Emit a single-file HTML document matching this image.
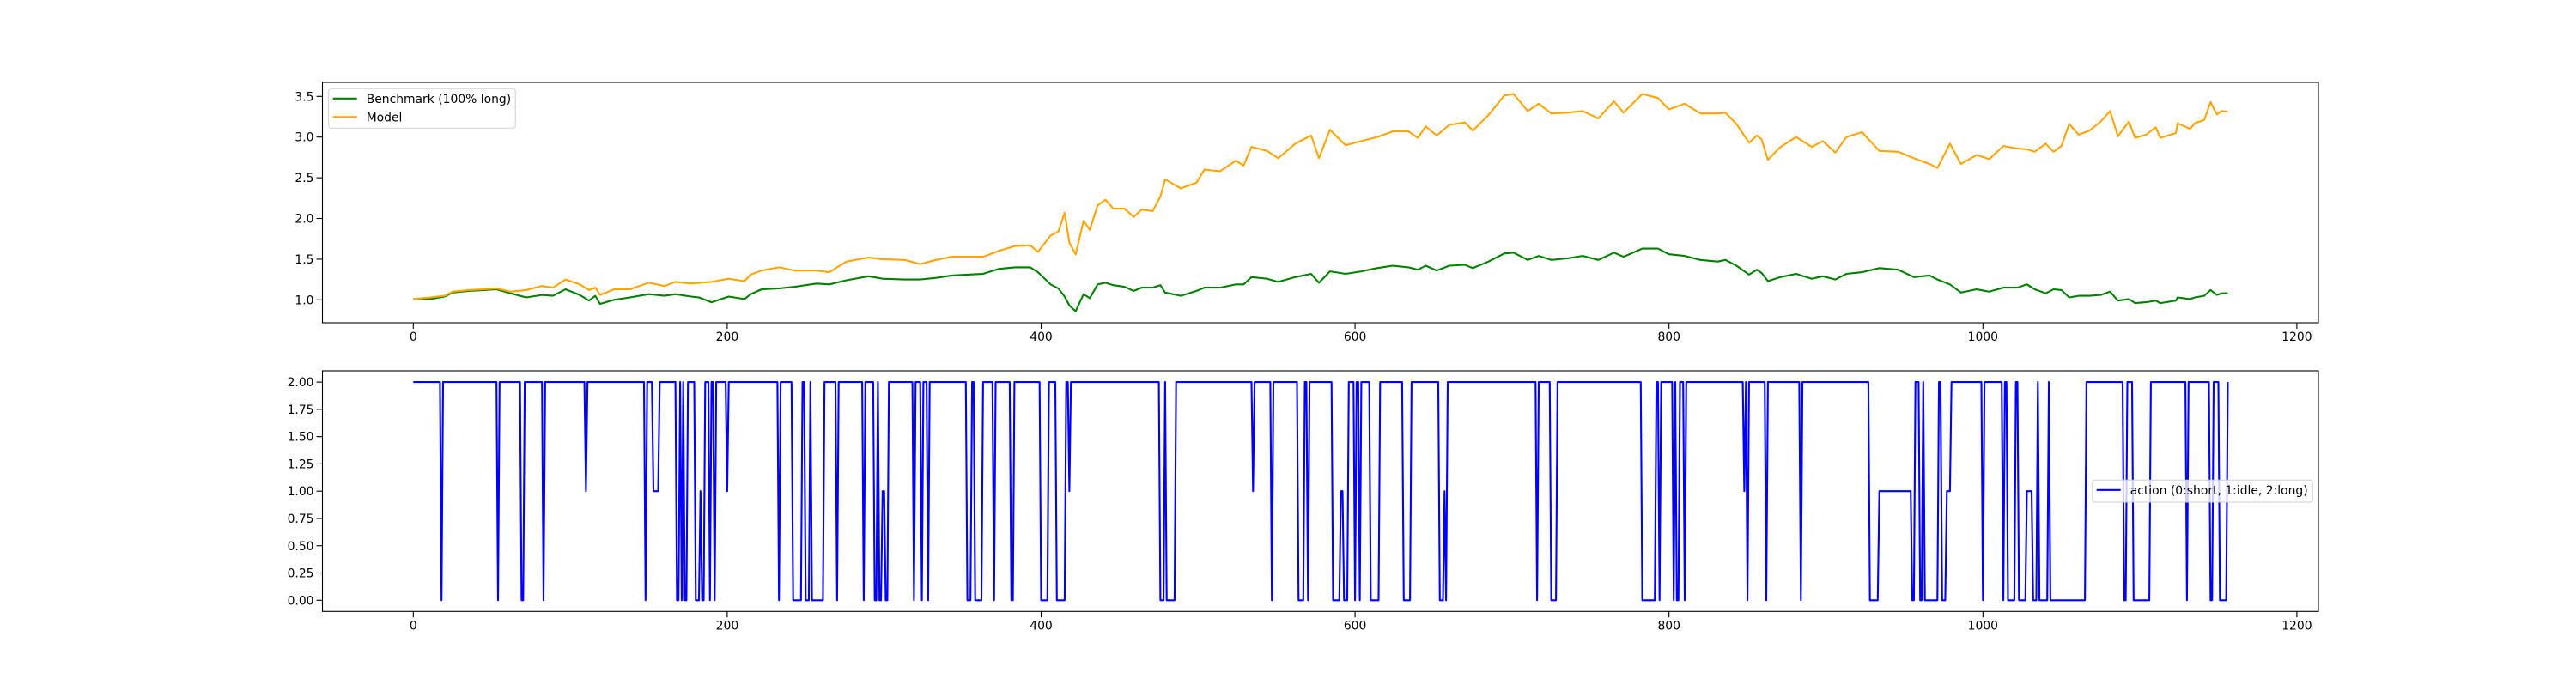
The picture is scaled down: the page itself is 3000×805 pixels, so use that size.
<!DOCTYPE html>
<html><head><meta charset="utf-8"><style>
html,body{margin:0;padding:0;background:#fff;}
svg text{font-family:"DejaVu Sans","Liberation Sans",sans-serif;font-size:13.9px;fill:#000;}
</style></head><body>
<svg id="chart" width="3000" height="800" viewBox="0 0 3000 800" xmlns="http://www.w3.org/2000/svg">
<rect width="3000" height="800" fill="#fff"/>
<g id="topPanel"></g>
<g id="botPanel"></g>
</svg>
<script>
// ---- data ----
const perfSteps = [0,11,20,25,35,45,53,62,72,82,89,97,106,112,116,119,128,138,150,160,167,177,182,190,201,211,215,222,233,243,257,265,276,290,299,313,323,333,343,353,363,373,383,393,398,406,411,415,418,422,427,431,436,441,446,453,459,464,471,476,479,489,499,504,514,524,529,534,544,551,562,572,577,584,594,604,614,624,634,640,645,652,660,670,675,685,695,701,710,717,725,735,745,755,765,771,783,793,800,810,820,831,836,843,851,856,859,863,871,881,891,898,906,913,923,934,946,956,966,971,979,986,996,1004,1013,1022,1028,1033,1040,1045,1050,1055,1061,1068,1075,1081,1086,1093,1097,1104,1110,1113,1123,1124,1132,1135,1141,1145,1149,1152,1156];
const modelVals = [1.01,1.03,1.05,1.10,1.12,1.13,1.14,1.10,1.12,1.17,1.15,1.25,1.19,1.12,1.15,1.06,1.13,1.13,1.21,1.17,1.22,1.20,1.21,1.22,1.26,1.23,1.31,1.36,1.40,1.36,1.36,1.34,1.47,1.52,1.50,1.49,1.44,1.49,1.53,1.53,1.53,1.60,1.66,1.67,1.59,1.79,1.84,2.07,1.70,1.56,1.97,1.86,2.16,2.23,2.12,2.12,2.02,2.11,2.09,2.27,2.48,2.37,2.44,2.60,2.58,2.71,2.65,2.88,2.83,2.74,2.92,3.02,2.74,3.09,2.90,2.95,3.00,3.07,3.07,2.99,3.13,3.02,3.15,3.18,3.08,3.27,3.51,3.53,3.32,3.41,3.29,3.30,3.32,3.23,3.44,3.30,3.53,3.48,3.34,3.41,3.29,3.29,3.30,3.16,2.93,3.02,2.97,2.72,2.88,3.00,2.88,2.95,2.81,3.00,3.06,2.83,2.82,2.74,2.67,2.62,2.92,2.67,2.78,2.73,2.89,2.86,2.85,2.82,2.92,2.82,2.89,3.16,3.03,3.08,3.19,3.32,3.01,3.19,2.99,3.03,3.12,2.99,3.05,3.17,3.10,3.17,3.21,3.43,3.28,3.32,3.31];
const benchVals = [1.01,1.01,1.04,1.09,1.11,1.12,1.13,1.08,1.03,1.06,1.05,1.13,1.06,0.99,1.05,0.95,1.00,1.03,1.07,1.05,1.07,1.04,1.03,0.97,1.04,1.01,1.07,1.13,1.14,1.16,1.20,1.19,1.24,1.29,1.26,1.25,1.25,1.27,1.30,1.31,1.32,1.38,1.40,1.40,1.34,1.19,1.14,1.04,0.93,0.86,1.07,1.02,1.19,1.21,1.18,1.16,1.11,1.15,1.15,1.18,1.09,1.05,1.11,1.15,1.15,1.19,1.19,1.28,1.26,1.22,1.28,1.32,1.21,1.35,1.32,1.35,1.39,1.42,1.40,1.37,1.42,1.36,1.42,1.43,1.39,1.47,1.57,1.58,1.49,1.54,1.49,1.51,1.54,1.49,1.58,1.53,1.63,1.63,1.56,1.54,1.49,1.47,1.49,1.42,1.31,1.37,1.33,1.23,1.28,1.32,1.26,1.29,1.25,1.32,1.34,1.39,1.37,1.28,1.30,1.25,1.19,1.09,1.13,1.10,1.15,1.15,1.19,1.13,1.08,1.13,1.12,1.03,1.05,1.05,1.06,1.10,0.99,1.01,0.96,0.97,0.99,0.96,0.99,1.03,1.01,1.03,1.05,1.12,1.06,1.08,1.08];
const actionRunStart = [0,18,19,54,55,69,71,83,84,110,111,148,149,153,157,168,170,171,172,173,175,180,183,184,186,189,190,192,193,200,201,233,234,242,248,250,253,254,262,270,271,287,288,294,296,297,299,301,303,319,320,324,325,328,329,353,356,358,363,370,371,381,383,400,405,410,416,418,419,476,479,480,486,535,536,547,548,564,568,570,571,586,591,593,596,600,601,603,604,610,616,631,636,654,657,658,659,716,717,725,729,783,792,794,795,803,804,805,807,810,811,848,849,850,851,862,863,884,885,928,934,955,957,960,962,963,972,974,977,980,1000,1001,1013,1014,1016,1021,1023,1028,1032,1035,1036,1042,1043,1066,1090,1092,1096,1107,1130,1131,1145,1147,1151,1156];
const actionRunValue = [2,0,2,0,2,0,2,0,2,1, 2,0,2,1,2,0,2,0,2,0, 2,0,1,0,2,0,2,0,2,1, 2,0,2,0,2,0,2,0,2,0, 2,0,2,0,2,0,1,0,2,0, 2,0,2,0,2,0,2,0,2,0, 2,0,2,0,2,0,2,1,2,0, 2,0,2,1,2,0,2,0,2,0, 2,0,1,0,2,0,2,0,2,0, 2,0,2,0,1,0,2,0,2,0, 2,0,2,0,2,0,2,0,2,0, 2,1,2,0,2,0,2,0,2,0, 1,0,2,0,2,0,2,0,1,2, 0,2,0,2,0,2,0,1,0,2, 0,2,0,2,0,2,0,2,0,2, 0,2,0,2];
const actionLastStep = 1156;
const xTicks = [0,200,400,600,800,1000,1200];
const topYTicks = [1.0,1.5,2.0,2.5,3.0,3.5];
const botYTicks = [0,0.25,0.5,0.75,1.0,1.25,1.5,1.75,2.0];

// ---- scales ----
const L=375.5, R=2700;
const X0=481.3, XS=1.828;
const xS = v => X0 + v*XS;
const topY = v => 349.3 - (v-1)*94.8;
const botY = v => 699.3 - v*127.1;
const NS="http://www.w3.org/2000/svg";
function mk(tag, parent, attrs){const e=document.createElementNS(NS,tag);for(const k in attrs)e.setAttribute(k,attrs[k]);parent.appendChild(e);return e;}

function axes(g, T, B, yTicks, yScale, fmt, prefix){
  const frame = mk('rect', g, {x:L,y:T,width:R-L,height:B-T,fill:'none',stroke:'#000','stroke-width':1.1});
  
  
  xTicks.forEach(t=>{
    const x=xS(t);
    const tk = mk('line', g, {x1:x,x2:x,y1:B,y2:B+7,stroke:'#000','stroke-width':1.1});
    
    
    const tx = mk('text', g, {x:x,y:B+21,'text-anchor':'middle'});
    tx.textContent = String(t);
    
    
  });
  yTicks.forEach(t=>{
    const y=yScale(t);
    const tk = mk('line', g, {x1:L-7,x2:L,y1:y,y2:y,stroke:'#000','stroke-width':1.1});
    
    
    const tx = mk('text', g, {x:L-10,y:y+5,'text-anchor':'end'});
    tx.textContent = fmt(t);
    
    
  });
}

const topG = document.getElementById('topPanel');
const botG = document.getElementById('botPanel');
axes(topG, 96, 376, topYTicks, topY, v=>v.toFixed(1), 'top');
axes(botG, 432, 712.3, botYTicks, botY, v=>v.toFixed(2), 'bottom');

function poly(g, xs, ys, color, name){
  const n = Math.min(xs.length, ys.length);
  const pts = [];
  for(let i=0;i<n;i++) pts.push(xS(xs[i]).toFixed(1)+','+ys[i].toFixed(1));
  const p = mk('polyline', g, {points:pts.join(' '),fill:'none',stroke:color,'stroke-width':2.1,'stroke-linejoin':'round'});
  
  
}
poly(topG, perfSteps, benchVals.map(topY), '#008000', 'benchmark-line');
poly(topG, perfSteps, modelVals.map(topY), '#FFA500', 'model-line');

// expand action runs into per-step values
const aX=[], aY=[];
const nRuns = Math.min(actionRunStart.length, actionRunValue.length);
for(let s=0;s<=actionLastStep;s++){
  let v=actionRunValue[0];
  for(let k=0;k<nRuns;k++){ if(actionRunStart[k]<=s) v=actionRunValue[k]; else break; }
  aX.push(s); aY.push(botY(v));
}
poly(botG, aX, aY, '#0000FF', 'action-line');

// legends
function legend(g, x, y, w, h, items, name){
  const lg = mk('g', g, {});
  
  
  mk('rect', lg, {x:x,y:y,width:w,height:h,rx:3,fill:'#fff','fill-opacity':0.8,stroke:'#d0d0d0','stroke-width':1});
  items.forEach((it,i)=>{
    const cy = y+11.5+i*21.5;
    const e = mk('g', lg, {});
    
    
    mk('line', e, {x1:x+5,x2:x+33,y1:cy,y2:cy,stroke:it.c,'stroke-width':2.1});
    const t = mk('text', e, {x:x+44,y:cy+5});
    t.textContent = it.t;
  });
}
legend(topG, 382.7, 103.3, 217.5, 46, [{c:'#008000',t:'Benchmark (100% long)'},{c:'#FFA500',t:'Model'}], 'top-legend');
legend(botG, 2436.7, 559.3, 256.6, 25.7, [{c:'#0000FF',t:'action (0:short, 1:idle, 2:long)'}], 'action-legend');
</script>
</body></html>
